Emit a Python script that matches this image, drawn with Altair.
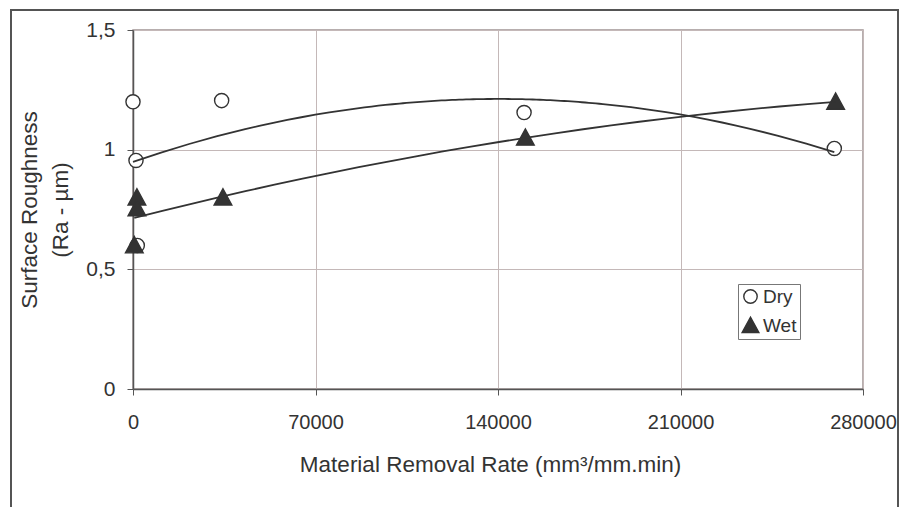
import altair as alt
import pandas as pd

# Data
dry_x = [0, 1150, 1650, 34000, 150000, 269000]
dry_y = [1.20, 0.955, 0.60, 1.205, 1.155, 1.005]
wet_x = [500, 1500, 1500, 34500, 150500, 269500]
wet_y = [0.60, 0.80, 0.755, 0.80, 1.05, 1.20]

x_ticks = [0, 70000, 140000, 210000, 280000]
y_ticks = [0, 0.5, 1.0, 1.5]
series_names = ["Dry", "Wet"]

df = pd.DataFrame(
    {
        "x": dry_x + wet_x,
        "y": dry_y + wet_y,
        "series": ["Dry"] * len(dry_x) + ["Wet"] * len(wet_x),
    }
)

FONT = "Liberation Sans"
INK = "#333333"
TRI = "M-1.25,1.05L1.25,1.05L0,-1.25Z"

xs = alt.Scale(domain=[0, 280000], nice=False, zero=False)
ys = alt.Scale(domain=[0, 1.5], nice=False)

x_axis = alt.Axis(
    values=x_ticks,
    format="d",
    title="Material Removal Rate (mm³/mm.min)",
    grid=True,
    gridColor="#c4b8b8",
    gridWidth=1,
    domainColor="#555555",
    domainWidth=1.5,
    tickColor="#555555",
    tickSize=6,
    labelFontSize=20,
    labelPadding=17,
    labelColor=INK,
    labelFont=FONT,
    labelFlush=False,
    titleFont=FONT,
    titleFontSize=22.5,
    titleFontWeight="normal",
    titleColor=INK,
    titlePadding=21,
    titleX=357,
    titleAnchor="start",
    titleAlign="center",
)

y_axis = alt.Axis(
    values=y_ticks,
    labelExpr="replace(format(datum.value, ''), '.', ',')",
    title=["Surface Roughness", "(Ra - µm)"],
    grid=True,
    gridColor="#c4b8b8",
    gridWidth=1,
    domainColor="#555555",
    domainWidth=1.5,
    tickColor="#555555",
    tickSize=6,
    labelFontSize=21,
    labelPadding=12,
    labelColor=INK,
    labelFont=FONT,
    labelFlush=False,
    titleFont=FONT,
    titleFontSize=22.5,
    titleFontWeight="normal",
    titleColor=INK,
    titlePadding=13,
    titleLineHeight=31,
)


def legend():
    return alt.Legend(
        title=None,
        orient="none",
        legendX=605,
        legendY=254,
        strokeColor="#777777",
        fillColor="white",
        padding=3,
        labelFont=FONT,
        labelFontSize=19,
        labelColor=INK,
        symbolSize=180,
        symbolStrokeWidth=1.4,
        rowPadding=7,
        labelOffset=3,
        cornerRadius=0,
    )


base = alt.Chart(df)

frame = base.mark_rect(filled=False, stroke="#555555", strokeWidth=1.2).encode(
    x=alt.value(-122), x2=alt.value(765), y=alt.value(-20), y2=alt.value(600)
)

points = base.mark_point(strokeWidth=1.4, opacity=1).encode(
    x=alt.X("x:Q", scale=xs, axis=x_axis),
    y=alt.Y("y:Q", scale=ys, axis=y_axis),
    shape=alt.Shape(
        "series:N",
        scale=alt.Scale(domain=series_names, range=["circle", TRI]),
        legend=legend(),
    ),
    fill=alt.Fill(
        "series:N",
        scale=alt.Scale(domain=series_names, range=["white", INK]),
        legend=legend(),
    ),
    stroke=alt.Stroke(
        "series:N",
        scale=alt.Scale(domain=series_names, range=[INK, INK]),
        legend=legend(),
    ),
    size=alt.value(200),
)

trend = (
    base.transform_regression("x", "y", method="poly", order=2, groupby=["series"])
    .mark_line(color=INK, strokeWidth=1.8)
    .encode(
        x=alt.X("x:Q", scale=xs),
        y=alt.Y("y:Q", scale=ys),
        detail="series:N",
    )
)

chart = (
    alt.layer(frame, points, trend)
    .properties(
        width=730,
        height=359,
        autosize=alt.AutoSizeParams(type="none"),
        padding={"left": 125, "top": 22, "right": 36, "bottom": 118},
        background="white",
    )
    .configure_view(stroke="#a09494", strokeWidth=1.5)
)

chart.save("out.html", embed_options={"renderer": "svg", "actions": False})
